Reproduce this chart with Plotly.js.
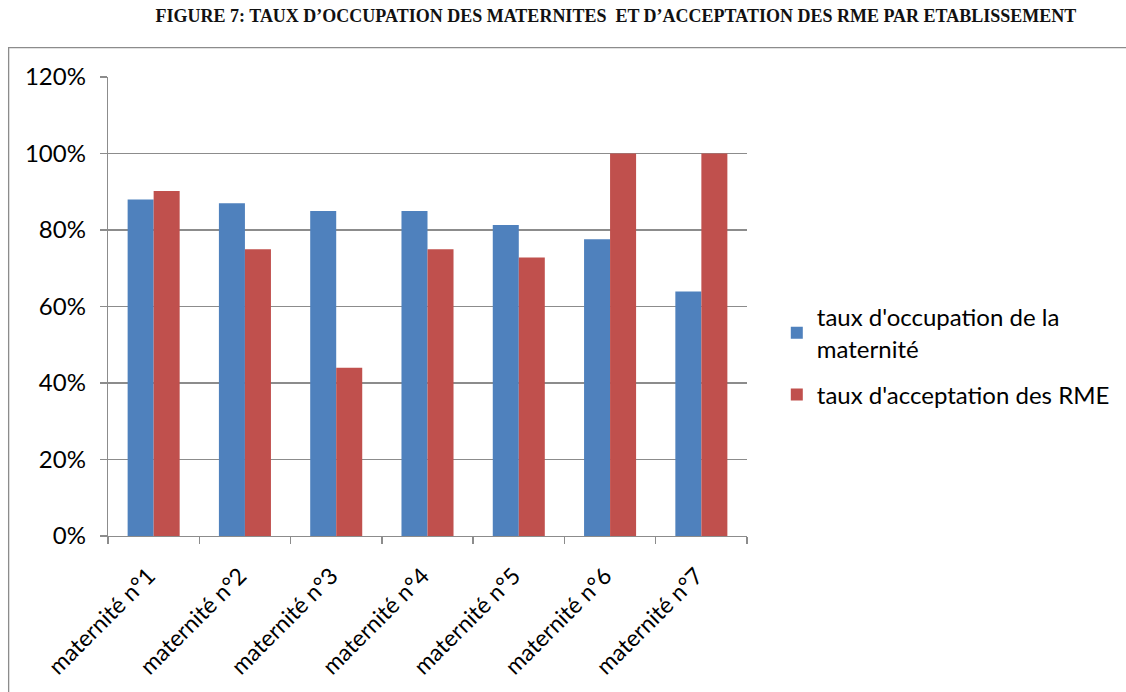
<!DOCTYPE html>
<html>
<head>
<meta charset="utf-8">
<script src="https://cdn.plot.ly/plotly-3.0.1.min.js"></script>
<style>
  html, body { margin: 0; padding: 0; background: #fff; }
  #chart { width: 1126px; height: 692px; }
</style>
</head>
<body>
<div id="chart"></div>
<script>
const categories = ["maternité n°1", "maternité n°2", "maternité n°3", "maternité n°4", "maternité n°5", "maternité n°6", "maternité n°7"];
const occupation = [0.88, 0.87, 0.85, 0.85, 0.813, 0.776, 0.639];
const acceptation = [0.902, 0.75, 0.44, 0.75, 0.728, 1.0, 1.0];
const seriesNames = ["taux d'occupation de la<br>maternité", "taux d'acceptation des RME"];
const yTickValues = [0, 0.2, 0.4, 0.6, 0.8, 1.0, 1.2];
const yTickLabels = ["0%", "20%", "40%", "60%", "80%", "100%", "120%"];
const titleText = "FIGURE 7: TAUX D’OCCUPATION DES MATERNITES  ET D’ACCEPTATION DES RME PAR ETABLISSEMENT";

const font = "Lato, 'Open Sans', sans-serif";
const gridColor = "#8c8c8c";

const traces = [
  { type: "bar", x: categories, y: occupation, name: seriesNames[0], legendgroup: "a",
    marker: { color: "#4F81BD", line: { width: 0 } } },
  { type: "bar", x: categories, y: acceptation, name: seriesNames[1], legendgroup: "b",
    marker: { color: "#C0504D", line: { width: 0 } } }
];

const layout = {
  width: 1126, height: 692, autosize: false,
  margin: { l: 108, r: 378, t: 77, b: 156, pad: 0 },
  paper_bgcolor: "#fff", plot_bgcolor: "#fff",
  barmode: "group", bargap: 0.43, bargroupgap: 0,
  title: { text: "<b>" + titleText + "</b>", x: 0.547, xref: "container", y: 0.978, yref: "container",
           yanchor: "middle", xanchor: "center",
           font: { family: "'Liberation Serif', serif", size: 18, color: "#111" } },
  font: { family: font, size: 24, color: "#000" },
  xaxis: {
    type: "category", tickangle: -45, tickson: "boundaries",
    ticks: "outside", ticklen: 7, tickcolor: gridColor, tickwidth: 1.3,
    showline: true, linecolor: gridColor, linewidth: 1.3,
    showgrid: false, zeroline: false,
    ticklabelstandoff: 16, ticklabelshift: -5,
    tickfont: { family: font, size: 23, color: "#000" },
    fixedrange: true
  },
  yaxis: {
    range: [0, 1.2], tickvals: yTickValues, ticktext: yTickLabels,
    ticks: "outside", ticklen: 7, tickcolor: gridColor, tickwidth: 1.3,
    showline: true, linecolor: gridColor, linewidth: 1.3,
    showgrid: true, gridcolor: gridColor, gridwidth: 1.3, zeroline: false,
    ticklabelstandoff: 9,
    tickfont: { family: font, size: 24, color: "#000" },
    fixedrange: true
  },
  showlegend: true,
  legend: {
    x: 1.045, xanchor: "left", y: 0.525, yanchor: "top",
    font: { family: font, size: 24, color: "#000" },
    bgcolor: "rgba(0,0,0,0)", tracegroupgap: 12, itemwidth: 30,
    traceorder: "grouped"
  },
  shapes: [
    { type: "rect", xref: "paper", yref: "paper",
      x0: -0.1555, x1: 1.75, y0: -0.45, y1: 1.064,
      line: { color: "#8c8c8c", width: 1.3 }, fillcolor: "rgba(0,0,0,0)", layer: "below" }
  ]
};

Plotly.newPlot("chart", traces, layout, { displayModeBar: false, staticPlot: true });
</script>
</body>
</html>
